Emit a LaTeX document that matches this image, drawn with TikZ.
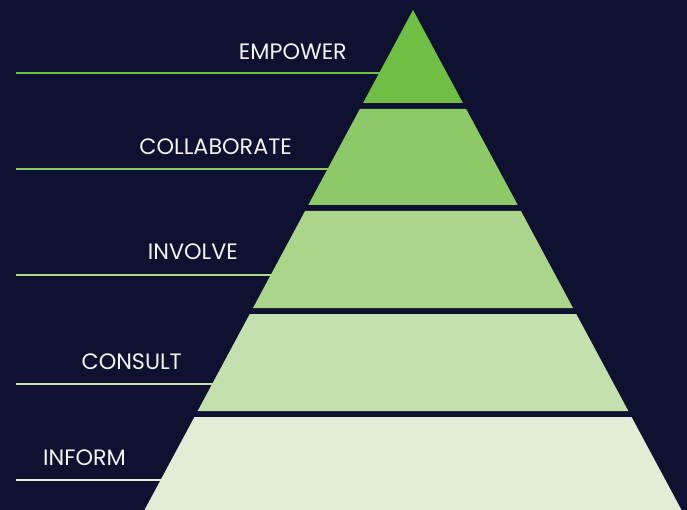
\documentclass[tikz,border=0pt]{standalone}
\usepackage{fontspec}
\setmainfont{Poppins}
\definecolor{bg}{HTML}{0E1130}
\definecolor{cA}{HTML}{6FBF44}
\definecolor{cB}{HTML}{8DC967}
\definecolor{cC}{HTML}{AAD58B}
\definecolor{cD}{HTML}{C5E0AF}
\definecolor{cE}{HTML}{E1EED6}
\definecolor{txt}{HTML}{F2F2F2}
\begin{document}
\begin{tikzpicture}[x=1pt,y=-1pt,
  lbl/.style={text=txt,font=\fontsize{22.3}{22.3}\selectfont,anchor=east,inner sep=0pt},
  guide/.style={line width=2pt}]
\fill[bg] (0,0) rectangle (687,510);
\useasboundingbox (0,0) rectangle (687,510);
% pyramid geometry: apex (413,10), half-width = 0.537*(y-10)
\def\k{0.537}
\newcommand{\band}[3]{% color, top y, bottom y
  \fill[#1] ({413-\k*(#2-10)},#2) -- ({413+\k*(#2-10)},#2) -- ({413+\k*(#3-10)},#3) -- ({413-\k*(#3-10)},#3) -- cycle;}
% guide lines
\coordinate (la) at (16,73);  \coordinate (ra) at (413,73);
\coordinate (lb) at (16,169); \coordinate (rb) at (413,169);
\coordinate (lc) at (16,275); \coordinate (rc) at (413,275);
\coordinate (ld) at (16,384); \coordinate (rd) at (413,384);
\coordinate (le) at (16,480); \coordinate (re) at (413,480);
\draw[guide,cA] (la) -- (ra);
\draw[guide,cB] (lb) -- (rb);
\draw[guide,cC] (lc) -- (rc);
\draw[guide,cD] (ld) -- (rd);
\draw[guide,cE] (le) -- (re);
% bands
\band{cA}{10}{103}
\band{cB}{109}{205}
\band{cC}{211}{308}
\band{cD}{314}{411}
\band{cE}{417}{515}
% labels
\node[lbl] (tA) at (347,52) {EMPOWER};
\node[lbl] (tB) at (292,147) {COLLABORATE};
\node[lbl] (tC) at (238,252) {INVOLVE};
\node[lbl] (tD) at (182,362) {CONSULT};
\node[lbl] (tE) at (126,458) {INFORM};
\end{tikzpicture}
\end{document}
